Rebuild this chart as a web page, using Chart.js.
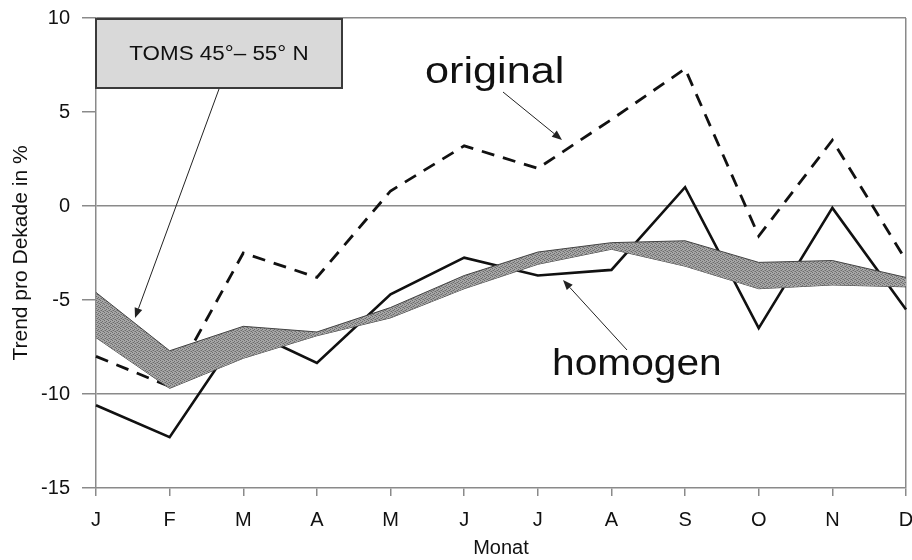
<!DOCTYPE html>
<html><head><meta charset="utf-8">
<script src="https://cdn.jsdelivr.net/npm/chart.js@4"></script>
<style>html,body{margin:0;padding:0;background:#fff}#wrap{width:912px;height:560px;position:relative}canvas{display:block}</style>
</head><body><div id="wrap"><canvas id="c" width="912" height="560" style="width:912px;height:560px"></canvas></div>
<script>
const months = ['J','F','M','A','M','J','J','A','S','O','N','D'];
const original = [-8.0,-9.6,-2.5,-3.8,0.8,3.2,2.0,4.6,7.3,-1.6,3.5,-2.9];
const homogen = [-10.6,-12.3,-6.5,-8.35,-4.7,-2.75,-3.7,-3.4,1.0,-6.5,-0.1,-5.5];
const bandUpper = [-4.6,-7.7,-6.4,-6.7,-5.4,-3.7,-2.45,-1.95,-1.85,-3.0,-2.9,-3.8];
const bandLower = [-7.0,-9.7,-8.1,-6.9,-5.95,-4.4,-3.1,-2.3,-3.2,-4.4,-4.2,-4.3];
const yTickValues = [10,5,0,-5,-10,-15];
const gridValues = [10,0,-10];

const FONT = '"Liberation Sans", Arial, Helvetica, sans-serif';

function makePattern(){
  const p = document.createElement('canvas');
  p.width = 4; p.height = 4;
  const g = p.getContext('2d');
  g.fillStyle = '#a6a6a6'; g.fillRect(0,0,4,4);
  g.fillStyle = '#6c6c6c';
  g.fillRect(0,0,1,1); g.fillRect(2,1,1,1); g.fillRect(1,2,1,1); g.fillRect(3,3,1,1);
  g.fillStyle = '#8a8a8a';
  g.fillRect(2,3,1,1); g.fillRect(0,2,1,1);
  return document.createElement('canvas').getContext('2d').createPattern(p,'repeat');
}

function stretchedText(ctx, txt, x, y, size, sx, align){
  ctx.save();
  ctx.font = size + 'px ' + FONT;
  ctx.fillStyle = '#111';
  ctx.textBaseline = 'alphabetic';
  const w = ctx.measureText(txt).width * sx;
  let left = x;
  if (align === 'center') left = x - w/2;
  ctx.translate(left, y);
  ctx.scale(sx, 1);
  ctx.textAlign = 'left';
  ctx.fillText(txt, 0, 0);
  ctx.restore();
}
function arrow(ctx, x1, y1, x2, y2){
  ctx.save();
  ctx.strokeStyle = '#222'; ctx.fillStyle = '#222'; ctx.lineWidth = 1;
  const a = Math.atan2(y2-y1, x2-x1);
  const L = 10, W = 4;
  const bx = x2 - L*Math.cos(a), by = y2 - L*Math.sin(a);
  ctx.beginPath(); ctx.moveTo(x1,y1); ctx.lineTo(bx,by); ctx.stroke();
  ctx.beginPath();
  ctx.moveTo(x2,y2);
  ctx.lineTo(bx + W*Math.sin(a), by - W*Math.cos(a));
  ctx.lineTo(bx - W*Math.sin(a), by + W*Math.cos(a));
  ctx.closePath(); ctx.fill();
  ctx.restore();
}

const annot = {
  id: 'annot',
  afterDatasetsDraw(chart){
    const ctx = chart.ctx;
    ctx.save();
    ctx.fillStyle = '#d9d9d9';
    ctx.fillRect(96,19,246,69);
    ctx.strokeStyle = '#3a3a3a'; ctx.lineWidth = 2;
    ctx.strokeRect(96,19,246,69);
    stretchedText(ctx, 'TOMS 45°\u2013 55° N', 219, 60, 20, 1.12, 'center');
    arrow(ctx, 219, 89, 135, 318);
    stretchedText(ctx, 'original', 425, 83, 36, 1.2, 'left');
    arrow(ctx, 503, 92, 562, 140);
    stretchedText(ctx, 'homogen', 552, 375, 37, 1.1, 'left');
    arrow(ctx, 627, 350, 563, 280);
    ctx.restore();
  }
};

const ctx = document.getElementById('c');
new Chart(ctx, {
  type: 'line',
  data: {
    labels: months,
    datasets: [
      { label: 'Band oben', data: bandUpper, borderColor: '#444', borderWidth: 1,
        backgroundColor: makePattern(), fill: '+1', pointRadius: 0, tension: 0 },
      { label: 'Band unten', data: bandLower, borderColor: '#444', borderWidth: 1,
        fill: false, pointRadius: 0, tension: 0 },
      { label: 'homogen', data: homogen, borderColor: '#111', borderWidth: 2.6,
        fill: false, pointRadius: 0, tension: 0 },
      { label: 'original', data: original, borderColor: '#111', borderWidth: 2.8,
        borderDash: [13, 9], fill: false, pointRadius: 0, tension: 0 }
    ]
  },
  options: {
    responsive: false,
    maintainAspectRatio: false,
    animation: false,
    devicePixelRatio: 1,
    layout: { padding: { top: 18, right: 6, left: 0, bottom: 0 } },
    plugins: { legend: { display: false }, tooltip: { enabled: false } },
    scales: {
      x: {
        type: 'category',
        offset: false,
        grid: {
          color: c => c.index === months.length - 1 ? '#8a8a8a' : 'rgba(0,0,0,0)',
          tickColor: '#8a8a8a', tickLength: 8, lineWidth: 1.5
        },
        border: { display: true, color: '#8a8a8a', width: 1.5 },
        ticks: { color: '#111', font: { family: FONT, size: 20 }, padding: 12,
                 maxRotation: 0, autoSkip: false },
        title: { display: true, text: 'Monat', color: '#111',
                 font: { family: FONT, size: 20 }, padding: { top: 0, bottom: 0 } },
        afterFit: s => { s.height = 72; s.paddingLeft = 0; s.paddingRight = 0; }
      },
      y: {
        min: -15, max: 10,
        afterBuildTicks: s => { s.ticks = yTickValues.map(v => ({ value: v })); },
        grid: {
          color: c => gridValues.includes(c.tick && c.tick.value) ? '#8a8a8a' : 'rgba(0,0,0,0)',
          tickColor: '#8a8a8a', tickLength: 14, lineWidth: 1.5
        },
        border: { display: true, color: '#8a8a8a', width: 1.5 },
        ticks: { color: '#111', font: { family: FONT, size: 20 }, padding: 12 },
        title: { display: true, text: 'Trend pro Dekade in %', color: '#111',
                 font: { family: FONT, size: 21 }, padding: { top: 9, bottom: 0 } },
        afterFit: s => { s.width = 96; s.paddingTop = 0; s.paddingBottom = 0; }
      }
    }
  },
  plugins: [annot]
});
</script>
</body></html>
